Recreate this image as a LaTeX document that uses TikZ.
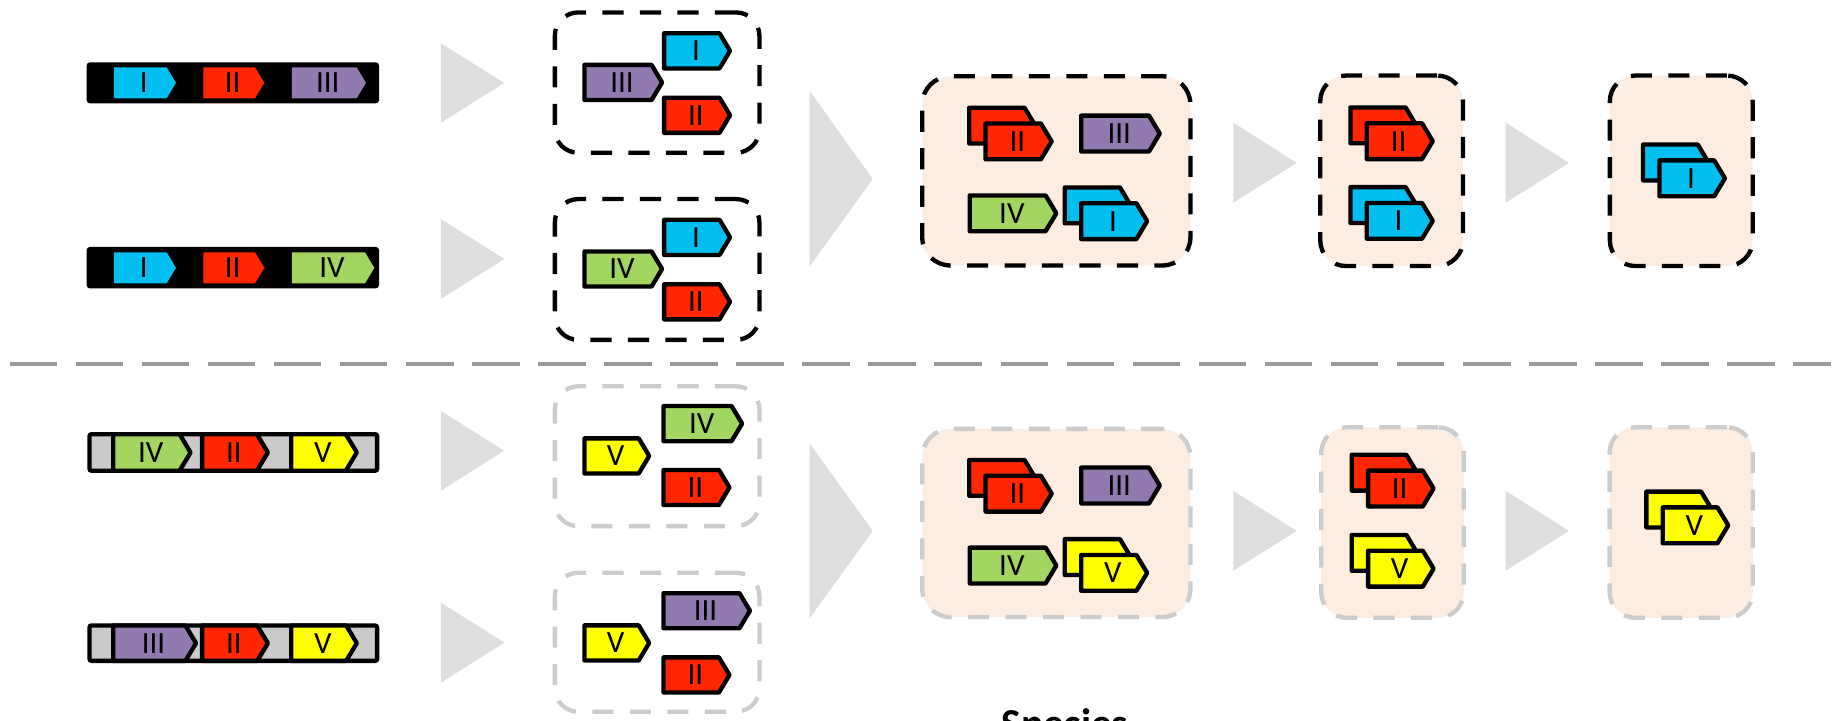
\documentclass[tikz,border=0pt]{standalone}
\usepackage{fontspec}
\setmainfont{Carlito}
\usetikzlibrary{calc}

\definecolor{geneblue}{HTML}{00BEF0}
\definecolor{genered}{HTML}{FF2600}
\definecolor{genepurple}{HTML}{9279B0}
\definecolor{genegreen}{HTML}{A3D561}
\definecolor{geneyellow}{HTML}{FFFF00}
\definecolor{poolfill}{HTML}{FDECE0}
\definecolor{arrowgray}{HTML}{DEDEDE}
\definecolor{boxgray}{HTML}{CCCCCC}
\definecolor{rulegray}{HTML}{999999}
\definecolor{bargray}{HTML}{CACACA}

\tikzset{
  genestroke/.style={draw=black, line width=2.1pt, line join=round},
  genelabel/.style={inner sep=0pt, outer sep=0pt, font=\fontsize{15}{15}\selectfont, text=black},
  cluster/.style={line width=2.1pt, dash pattern=on 0.36cm off 0.28cm,
    inner sep=0pt, outer sep=0pt, rectangle},
  blackdash/.style={cluster, draw=black},
  graydash/.style={cluster, draw=boxgray},
  pool/.style={fill=poolfill},
  blockarrow/.style={fill=arrowgray},
  operonbar/.style={inner sep=0pt, outer sep=0pt, rectangle},
}

% gene outline: left edge, tip, centre y, half height, style
\newcommand\geneshape[5]{%
  \filldraw[#5] (#1+1.85,#3-#4) -- (#2-1.85-0.6*#4,#3-#4) -- (#2-1.85,#3)
     -- (#2-1.85-0.6*#4,#3+#4) -- (#1+1.85,#3+#4) -- cycle;}
% outlined gene with its label node
\newcommand\gn[7]{%
  \geneshape{#2}{#3}{#4}{#5}{genestroke, fill=#6}%
  \node[genelabel] (#1) at ({(#2+#3)/2-1},#4) {#7};}
% two stacked copies of a gene
\newcommand\dgn[7]{%
  \geneshape{#2-14}{#3-14}{#4-13.5}{#5}{genestroke, fill=#6}%
  \gn{#1}{#2}{#3}{#4}{#5}{#6}{#7}}
% gene drawn inside a black operon bar (no outline)
\newcommand\bgn[7]{%
  \fill[#6] (#2,#4-#5) -- (#3-0.6*#5,#4-#5) -- (#3,#4) -- (#3-0.6*#5,#4+#5) -- (#2,#4+#5) -- cycle;
  \node[genelabel] (#1) at ({(#2+#3)/2-1},#4) {#7};}
% rectangular node spanning x1,y1 -- x2,y2
\newcommand\areanode[6]{%
  \node[#6, minimum width={(#4-#2)*0.02cm}, minimum height={(#5-#3)*0.02cm}]
    (#1) at ({(#2+#4)/2},{(#3+#5)/2}) {};}

\begin{document}
\begin{tikzpicture}[x=0.02cm, y=-0.02cm]
\useasboundingbox (0,0) rectangle (1568,615);
\clip (0,0) rectangle (1568,615);

% ---------- operons ----------
\areanode{opA}{74}{53.2}{323.5}{88.2}{operonbar, fill=black, rounded corners=1.5}
\bgn{opAi}{97.3}{150.2}{70.7}{13.2}{geneblue}{I}
\bgn{opAii}{173.6}{225.6}{70.7}{13.2}{genered}{II}
\bgn{opAiii}{249.2}{312.4}{70.7}{13.2}{genepurple}{III}

\areanode{opB}{74}{210.8}{323.5}{246.1}{operonbar, fill=black, rounded corners=1.5}
\bgn{opBi}{97.3}{150.2}{228.6}{13.2}{geneblue}{I}
\bgn{opBii}{173.6}{225.6}{228.6}{13.2}{genered}{II}
\bgn{opBiv}{249.2}{319.5}{228.6}{13.2}{genegreen}{IV}

\areanode{opC}{76.4}{370.6}{321.9}{401.8}{operonbar, fill=bargray, draw=black, line width=2.1pt, rounded corners=1}
\gn{opCiv}{94.8}{164.5}{386.2}{15.6}{genegreen}{IV}
\gn{opCii}{170.7}{230.5}{386.2}{15.6}{genered}{II}
\gn{opCv}{246.8}{306.4}{386.2}{15.6}{geneyellow}{V}

\areanode{opD}{76.4}{533.9}{321.9}{564.1}{operonbar, fill=bargray, draw=black, line width=2.1pt, rounded corners=1}
\gn{opDiii}{94.8}{169.2}{549}{15.1}{genepurple}{III}
\gn{opDii}{170.7}{230.5}{549}{15.1}{genered}{II}
\gn{opDv}{246.8}{306.4}{549}{15.1}{geneyellow}{V}

% ---------- block arrows ----------
\fill[blockarrow] (376.3,37) -- (430.5,70.8) -- (376.3,104.7) -- cycle;
\fill[blockarrow] (376.3,187) -- (430.5,221) -- (376.3,255.2) -- cycle;
\fill[blockarrow] (376.3,350.8) -- (430.5,384.7) -- (376.3,418.8) -- cycle;
\fill[blockarrow] (376.3,514.4) -- (430.5,548.5) -- (376.3,582.7) -- cycle;
\fill[blockarrow] (691,77.4) -- (744.9,152.8) -- (691,227.6) -- cycle;
\fill[blockarrow] (691,378.4) -- (744.9,453.2) -- (691,527.8) -- cycle;
\fill[blockarrow] (1052.7,104.7) -- (1106.8,139.1) -- (1052.7,173) -- cycle;
\fill[blockarrow] (1285.2,104.7) -- (1339.2,139.1) -- (1285.2,173) -- cycle;
\fill[blockarrow] (1052.7,419) -- (1106.8,453.2) -- (1052.7,487.1) -- cycle;
\fill[blockarrow] (1285.2,419) -- (1339.2,453.2) -- (1285.2,487.1) -- cycle;

% ---------- gene sets ----------
\areanode{setA}{473.6}{10.6}{648.2}{130.4}{blackdash, rounded corners=0.4cm}
\gn{setAiii}{497}{567}{70.4}{15}{genepurple}{III}
\gn{setAi}{565}{625}{43.4}{15}{geneblue}{I}
\gn{setAii}{565}{625}{98.4}{15}{genered}{II}

\areanode{setB}{473.6}{169.9}{648.2}{290.1}{blackdash, rounded corners=0.4cm}
\gn{setBiv}{497}{567}{229.6}{15}{genegreen}{IV}
\gn{setBi}{565}{625}{202.6}{15}{geneblue}{I}
\gn{setBii}{565}{625}{257.6}{15}{genered}{II}

\areanode{setC}{473.6}{329.7}{648.2}{449.1}{graydash, rounded corners=0.4cm}
\gn{setCv}{497}{556}{389.2}{15}{geneyellow}{V}
\gn{setCiv}{564.5}{635.3}{361.6}{15}{genegreen}{IV}
\gn{setCii}{564.5}{624.5}{416.1}{15}{genered}{II}

\areanode{setD}{473.6}{488.9}{648.2}{607.5}{graydash, rounded corners=0.4cm}
\gn{setDv}{497}{556}{548.8}{15}{geneyellow}{V}
\gn{setDiii}{564.5}{642}{521.3}{15}{genepurple}{III}
\gn{setDii}{564.5}{624.5}{576.1}{15}{genered}{II}

% ---------- pooled gene content ----------
\areanode{poolA}{787.2}{65.1}{1016.1}{226.6}{blackdash, pool, rounded corners=0.48cm}
\dgn{poolAii}{839.4}{899.5}{120.7}{15.3}{genered}{II}
\gn{poolAiii}{921}{991.8}{114}{15.3}{genepurple}{III}
\gn{poolAiv}{825.9}{903.5}{182.1}{15.3}{genegreen}{IV}
\dgn{poolAi}{921}{981}{188.8}{15.3}{geneblue}{I}

\areanode{poolB}{787.2}{366.1}{1016.1}{526.7}{graydash, pool, rounded corners=0.48cm}
\dgn{poolBii}{839.4}{899.5}{421.4}{15.3}{genered}{II}
\gn{poolBiii}{921}{991.8}{414.4}{15.3}{genepurple}{III}
\gn{poolBiv}{825.9}{903.5}{482.7}{15.3}{genegreen}{IV}
\dgn{poolBv}{921}{981}{489}{15.3}{geneyellow}{V}

% ---------- shared genes ----------
\areanode{sharedA}{1126.9}{64.5}{1248.7}{227.1}{blackdash, pool, rounded corners=0.44cm}
\dgn{sharedAii}{1164.8}{1224.8}{120.5}{15.3}{genered}{II}
\dgn{sharedAi}{1164.8}{1224.8}{188.5}{15.3}{geneblue}{I}

\areanode{sharedB}{1127.7}{364.7}{1249.4}{527.3}{graydash, pool, rounded corners=0.44cm}
\dgn{sharedBii}{1165.9}{1225.5}{417}{15.3}{genered}{II}
\dgn{sharedBv}{1165.9}{1225.5}{485.4}{15.3}{geneyellow}{V}

% ---------- core genes ----------
\areanode{coreA}{1374.1}{64.5}{1496}{227.1}{blackdash, pool, rounded corners=0.44cm}
\dgn{coreAi}{1414.6}{1474.2}{152.2}{15.3}{geneblue}{I}

\areanode{coreB}{1373.9}{364.7}{1496.1}{527.3}{graydash, pool, rounded corners=0.44cm}
\dgn{coreBv}{1417.4}{1477}{448.4}{15.3}{geneyellow}{V}

% ---------- separator and caption ----------
\coordinate (ruleL) at (8.2,310.7);
\coordinate (ruleR) at (1563,310.7);
\draw[rulegray, line width=1.93pt, dash pattern=on 0.812cm off 0.316cm] (ruleL) -- (ruleR);

\node[anchor=base, inner sep=0pt, font=\fontsize{20}{20}\selectfont\bfseries] (caption) at (909,629.7) {Species};
\end{tikzpicture}
\end{document}
